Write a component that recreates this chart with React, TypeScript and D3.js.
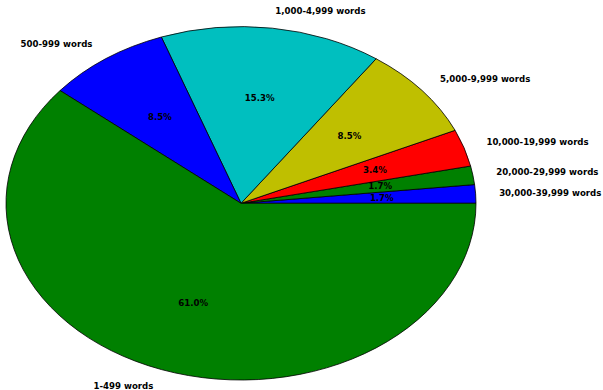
import React from "react";
import * as d3 from "d3";

const categories = [
  "30,000-39,999 words",
  "20,000-29,999 words",
  "10,000-19,999 words",
  "5,000-9,999 words",
  "1,000-4,999 words",
  "500-999 words",
  "1-499 words",
];
const counts = [1, 1, 2, 5, 9, 5, 36];
const colors = ["#0000ff", "#008000", "#ff0000", "#bfbf00", "#00bfbf", "#0000ff", "#008000"];

const W = 603;
const H = 390;
const cx = 241;
const cy = 203.3;
const rx = 235;
const ry = 176.7;

export default function App() {
  const total = d3.sum(counts);
  const pie = d3
    .pie<number>()
    .sort(null)
    .value((d) => d)
    .startAngle(Math.PI / 2)
    .endAngle(Math.PI / 2 - 2 * Math.PI);
  const arcs = pie(counts);
  const arcGen = d3.arc<d3.PieArcDatum<number>>().innerRadius(0).outerRadius(1);
  const fmt = d3.format(".1f");

  return (
    <svg
      width={W}
      height={H}
      style={{ position: "fixed", left: 0, top: 0, background: "#fff" }}
      fontFamily="DejaVu Sans"
      fontWeight="bold"
      fontSize={8.6}
    >
      <g transform={`translate(${cx},${cy}) scale(${rx},${ry})`}>
        {arcs.map((a, i) => (
          <path
            key={i}
            d={arcGen(a) || ""}
            fill={colors[i]}
            stroke="#000"
            strokeWidth={0.8}
            vectorEffect="non-scaling-stroke"
            strokeLinejoin="round"
          />
        ))}
      </g>
      {arcs.map((a, i) => {
        const mid = (a.startAngle + a.endAngle) / 2;
        const theta = Math.PI / 2 - mid;
        const c = Math.cos(theta);
        const s = Math.sin(theta);
        const lx = cx + 1.1 * rx * c;
        const ly = cy - 1.1 * ry * s;
        const px = cx + 0.6 * rx * c;
        const py = cy - 0.6 * ry * s;
        return (
          <g key={i}>
            <text
              x={lx}
              y={ly}
              textAnchor={c > 0 ? "start" : "end"}
              dominantBaseline="central"
              fill="#000"
            >
              {categories[i]}
            </text>
            <text x={px} y={py} textAnchor="middle" dominantBaseline="central" fill="#000">
              {fmt((counts[i] / total) * 100) + "%"}
            </text>
          </g>
        );
      })}
    </svg>
  );
}
